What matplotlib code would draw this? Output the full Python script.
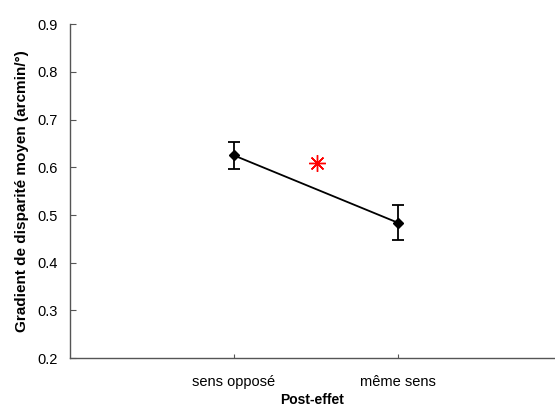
import matplotlib.pyplot as plt

plt.rcParams['font.family'] = ['Liberation Sans', 'DejaVu Sans']

categories = ["sens opposé", "même sens"]
means = [0.625, 0.484]
errors = [0.028, 0.037]
star_x = 1.51
star_y = 0.609

fig = plt.figure(figsize=(5.55, 4.16), dpi=100)
ax = fig.add_axes([0.126, 0.139, 0.874, 0.803])

x = [1, 2]
ax.errorbar(x, means, yerr=errors, color="black", marker="D", markersize=5.5,
            linewidth=1.3, elinewidth=1.3, capsize=4.5, capthick=1.3)
ax.plot([star_x], [star_y], marker=(8, 2, 0), markersize=12, color="red",
        markeredgewidth=1.0, linestyle="none")

ax.set_xlim(0, 2.96)
ax.set_ylim(0.2, 0.9)
ax.set_xticks(x)
ax.set_xticklabels(categories)
ax.set_yticks([0.2, 0.3, 0.4, 0.5, 0.6, 0.7, 0.8, 0.9])
ax.set_yticklabels(["0.2", "0.3", "0.4", "0.5", "0.6", "0.7", "0.8", "0.9"])

for side in ["top", "right"]:
    ax.spines[side].set_visible(False)
for side in ["left", "bottom"]:
    ax.spines[side].set_color("#555555")
    ax.spines[side].set_linewidth(1.0)

ax.tick_params(direction="in", length=4, color="#555555", labelsize=10.5)
ax.tick_params(axis="y", pad=9)
ax.tick_params(axis="x", length=3, pad=12)

ax.set_xlabel("Post-effet", fontsize=10, fontweight="bold", labelpad=3)
ax.set_ylabel("Gradient de disparité moyen (arcmin/°)", fontsize=11,
              fontweight="bold", labelpad=6)

fig.savefig("out.png", dpi=100)
